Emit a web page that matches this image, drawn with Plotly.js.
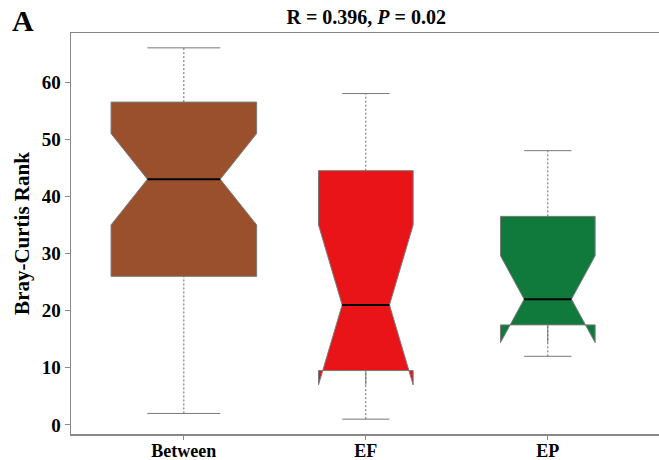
<!DOCTYPE html>
<html>
<head>
<meta charset="utf-8">
<script src="https://cdn.plot.ly/plotly-3.0.1.min.js"></script>
<style>html,body{margin:0;padding:0;background:#fff;}#chart{width:659px;height:460px;}</style>
</head>
<body>
<div id="chart"></div>
<script>
// ---- data ----
const categories = ['Between', 'EF', 'EP'];
const lowerWhisker = [2, 1, 12];
const q1Values = [26, 9.5, 17.5];
const medianValues = [43, 21, 22];
const q3Values = [56.5, 44.5, 36.5];
const upperWhisker = [66, 58, 48];
const notchSpans = [8, 14, 7.6];
const yTickValues = [0, 10, 20, 30, 40, 50, 60];

// ---- styles ----
const fillColors = ['#9A502D', '#E81418', '#0F7A3B'];
const boxWidths = [0.8, 0.52, 0.52];
const notchWidth = 0.25;
const serif = 'Liberation Serif, Times New Roman, serif';

const traces = [];
categories.forEach((c, i) => {
  traces.push({
    type: 'box',
    x: [i],
    q1: [q1Values[i]],
    median: [medianValues[i]],
    q3: [q3Values[i]],
    lowerfence: [q1Values[i]],
    upperfence: [q3Values[i]],
    notchspan: [notchSpans[i]],
    notched: true,
    notchwidth: notchWidth,
    width: boxWidths[i],
    whiskerwidth: 0,
    fillcolor: fillColors[i],
    line: {color: '#7a7a7a', width: 1},
    boxpoints: false,
    hoverinfo: 'skip',
    showlegend: false
  });
});

// dotted whiskers
const wx = [], wy = [];
categories.forEach((c, i) => {
  wx.push(i, i, null, i, i, null);
  wy.push(lowerWhisker[i], q1Values[i], null, q3Values[i], upperWhisker[i], null);
});
traces.push({type: 'scatter', mode: 'lines', x: wx, y: wy,
  line: {color: '#666', width: 1, dash: '2px,2px'}, hoverinfo: 'skip', showlegend: false});

// whisker caps
const cx = [], cy = [];
categories.forEach((c, i) => {
  const h = boxWidths[i] / 4;
  cx.push(i - h, i + h, null, i - h, i + h, null);
  cy.push(lowerWhisker[i], lowerWhisker[i], null, upperWhisker[i], upperWhisker[i], null);
});
traces.push({type: 'scatter', mode: 'lines', x: cx, y: cy,
  line: {color: '#777', width: 1}, hoverinfo: 'skip', showlegend: false});

// median lines
const mx = [], my = [];
categories.forEach((c, i) => {
  const h = boxWidths[i] * (1 - 2 * notchWidth) / 2;
  mx.push(i - h, i + h, null);
  my.push(medianValues[i], medianValues[i], null);
});
traces.push({type: 'scatter', mode: 'lines', x: mx, y: my,
  line: {color: '#000', width: 2}, hoverinfo: 'skip', showlegend: false});

const layout = {
  width: 659, height: 460,
  margin: {l: 71, r: 0, t: 33, b: 26},
  paper_bgcolor: '#fff', plot_bgcolor: '#fff',
  font: {family: serif, color: '#000'},
  title: {
    text: '<b>R = 0.396, <i>P</i> = 0.02</b>',
    font: {family: serif, size: 20, color: '#000'},
    x: 0.502, xref: 'paper', xanchor: 'center',
    y: 0.962, yref: 'container', yanchor: 'middle'
  },
  xaxis: {
    range: [-0.62, 2.611],
    tickvals: categories.map((c, i) => i),
    ticktext: categories,
    tickfont: {family: serif, size: 18, color: '#000', weight: 'bold'},
    ticks: 'outside', ticklen: 4, tickcolor: '#888', tickwidth: 1,
    ticklabelstandoff: -4,
    showline: true, mirror: true, linecolor: '#888', linewidth: 1.5,
    showgrid: false, zeroline: false, fixedrange: true
  },
  yaxis: {
    range: [-1.6, 68.6],
    tickvals: yTickValues,
    tickfont: {family: serif, size: 19, color: '#000', weight: 'bold'},
    ticks: 'outside', ticklen: 5, tickcolor: '#888', tickwidth: 1,
    showline: true, mirror: true, linecolor: '#888', linewidth: 1.5,
    showgrid: false, zeroline: false, fixedrange: true,
    title: {text: '<b>Bray-Curtis Rank</b>', font: {family: serif, size: 21, color: '#000'}, standoff: 6}
  },
  annotations: [{
    text: '<b>A</b>', xref: 'paper', yref: 'paper',
    x: -0.104, y: 1.078, xanchor: 'left', yanchor: 'top',
    showarrow: false, font: {family: serif, size: 30, color: '#000'}
  }]
};

Plotly.newPlot('chart', traces, layout, {displayModeBar: false, staticPlot: true});
</script>
</body>
</html>
